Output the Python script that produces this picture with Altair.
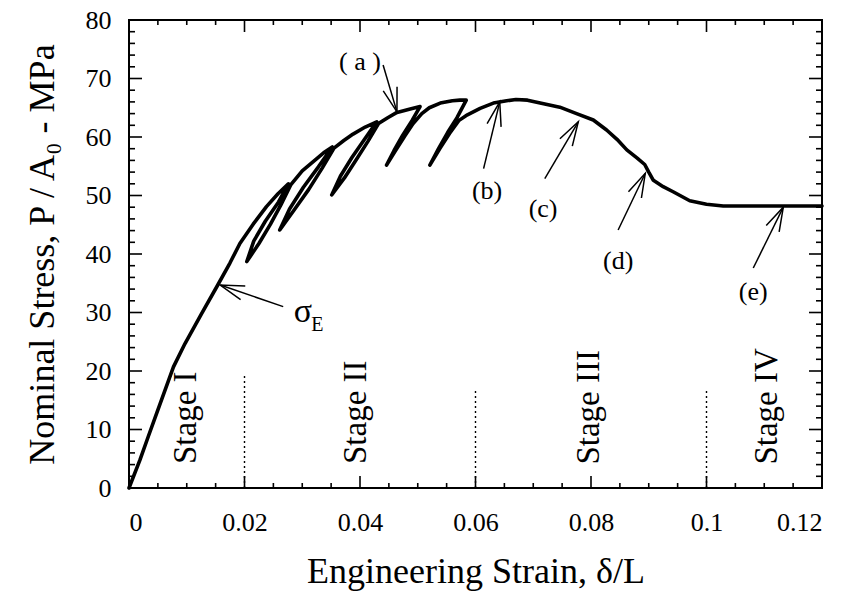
import math
import altair as alt
import pandas as pd

# ---------------- data ----------------
strain = [
    0.0, 0.0019, 0.00334, 0.0048, 0.0077, 0.0097, 0.0125, 0.0152, 0.0175, 0.0192,
    0.0215, 0.0238, 0.0258, 0.0276,
    # loop 1 (unload, reload)
    0.0259, 0.0236, 0.0216, 0.0204, 0.0225, 0.0245, 0.0263, 0.0280,
    0.0300, 0.0319, 0.0337, 0.0352,
    # loop 2
    0.0328, 0.0302, 0.0278, 0.0261, 0.0285, 0.0311, 0.0334, 0.0355,
    0.0372, 0.0388, 0.0409, 0.0429,
    # loop 3
    0.0407, 0.0386, 0.0366, 0.0351, 0.0373, 0.0394, 0.0414, 0.0432,
    0.0448, 0.0464, 0.0487, 0.0504,
    # loop 4
    0.0490, 0.0474, 0.0459, 0.0446, 0.0461, 0.0477, 0.0492, 0.0507,
    0.0520, 0.0539, 0.0560, 0.0573, 0.0584,
    # loop 5
    0.0568, 0.0552, 0.0536, 0.0521, 0.0538, 0.0555, 0.0571, 0.0586,
    0.0608, 0.0631, 0.0654, 0.0670, 0.0690, 0.0712, 0.0746, 0.0775,
    0.0804, 0.0827, 0.0845, 0.0862, 0.0880, 0.0893, 0.0900, 0.0908,
    0.0925, 0.0943, 0.0971, 0.1000, 0.1029, 0.1100, 0.1200,
]
stress = [
    0.0, 4.8, 8.8, 12.8, 20.7, 24.7, 29.7, 34.4, 38.5, 41.8,
    45.1, 48.1, 50.3, 52.0,
    48.9, 45.6, 42.2, 38.7, 41.8, 45.1, 48.4, 51.8,
    54.2, 55.8, 57.3, 58.3,
    54.9, 51.4, 47.7, 44.1, 47.4, 51.0, 54.6, 58.1,
    59.4, 60.5, 61.7, 62.6,
    59.5, 56.5, 53.3, 50.1, 53.0, 56.2, 59.3, 62.3,
    63.3, 64.2, 64.8, 65.2,
    62.8, 60.3, 57.7, 55.2, 57.6, 60.1, 62.3, 64.0,
    65.0, 65.8, 66.2, 66.3, 66.3,
    63.3, 60.8, 58.0, 55.2, 58.0, 60.6, 62.8, 63.8,
    64.9, 65.8, 66.2, 66.4, 66.3, 65.8, 65.1, 64.0,
    62.9, 61.2, 59.6, 57.8, 56.4, 55.3, 54.0, 52.6,
    51.5, 50.6, 49.1, 48.5, 48.2, 48.2, 48.2,
]

# arrows: tip and tail, plus label positions
arrow_tip_x = [0.0464, 0.0642, 0.0778, 0.0894, 0.1133, 0.0158]
arrow_tip_y = [64.3, 66.0, 62.6, 53.8, 48.0, 34.7]
arrow_tail_x = [0.0440, 0.0614, 0.0720, 0.0847, 0.1081, 0.0267]
arrow_tail_y = [72.3, 54.6, 52.9, 44.1, 37.6, 31.0]

letter_text = ["( a )", "(b)", "(c)", "(d)", "(e)"]
letter_x = [0.0400, 0.0620, 0.0717, 0.0847, 0.1081]
letter_y = [72.8, 50.8, 47.7, 38.8, 33.5]

stage_text = ["Stage I", "Stage II", "Stage III", "Stage IV"]
stage_x = [0.0099, 0.0393, 0.0797, 0.1105]
stage_y = [4.1, 4.1, 4.0, 4.0]

stage_lines = [0.02, 0.06, 0.1]
stage_line_top = [19.3, 16.6, 16.6]

x_major = [0.0, 0.02, 0.04, 0.06, 0.08, 0.1, 0.12]
x_minor = [0.005, 0.01, 0.015, 0.025, 0.03, 0.035, 0.045, 0.05, 0.055,
           0.065, 0.07, 0.075, 0.085, 0.09, 0.095, 0.105, 0.11, 0.115]
y_major = [0.0, 10.0, 20.0, 30.0, 40.0, 50.0, 60.0, 70.0, 80.0]
y_minor = [2.0, 4.0, 6.0, 8.0, 12.0, 14.0, 16.0, 18.0, 22.0, 24.0, 26.0, 28.0,
           32.0, 34.0, 36.0, 38.0, 42.0, 44.0, 46.0, 48.0, 52.0, 54.0, 56.0, 58.0,
           62.0, 64.0, 66.0, 68.0, 72.0, 74.0, 76.0, 78.0]

# ---------------- layout ----------------
W, H = 693, 468
X0, X1 = 0.0, 0.12
Y0, Y1 = 0.0, 80.0
FONT = "Liberation Serif"
px_x = W / (X1 - X0)
px_y = H / (Y1 - Y0)

xs = alt.Scale(domain=[X0, X1], nice=False, zero=False)
ys = alt.Scale(domain=[Y0, Y1], nice=False, zero=False)

curve_df = pd.DataFrame({"strain": strain, "stress": stress, "ord": list(range(len(strain)))})

curve = alt.Chart(curve_df).mark_line(
    color="black", strokeWidth=3.6, strokeJoin="round", strokeCap="round"
).encode(
    x=alt.X("strain:Q", scale=xs,
            axis=alt.Axis(values=x_major, format="~g", title="Engineering Strain, δ/L",
                          labelPadding=21, titlePadding=19)),
    y=alt.Y("stress:Q", scale=ys,
            axis=alt.Axis(values=y_major, title="Nominal Stress, P / A₀ - MPa",
                          labelPadding=18, titlePadding=24)),
    order="ord:Q",
)

# inward tick marks: tick marks centred half their length inside the frame
tick_layers = []
for vals, length_px in ((x_major, 12), (x_minor, 5)):
    half = (length_px / 2) / px_y
    n = len(vals)
    df = pd.DataFrame({"strain": vals + vals,
                       "stress": [Y0 + half] * n + [Y1 - half] * n})
    tick_layers.append(
        alt.Chart(df).mark_tick(color="black", orient="vertical", thickness=1.6,
                                size=length_px, opacity=1).encode(
            x=alt.X("strain:Q", scale=xs), y=alt.Y("stress:Q", scale=ys)))
for vals, length_px in ((y_major, 13), (y_minor, 6)):
    half = (length_px / 2) / px_x
    n = len(vals)
    df = pd.DataFrame({"stress": vals + vals,
                       "strain": [X0 + half] * n + [X1 - half] * n})
    tick_layers.append(
        alt.Chart(df).mark_tick(color="black", orient="horizontal", thickness=1.6,
                                size=length_px, opacity=1).encode(
            x=alt.X("strain:Q", scale=xs), y=alt.Y("stress:Q", scale=ys)))

# stage dotted lines
stage_df = pd.DataFrame({"strain": stage_lines, "stress": [0.0] * len(stage_lines),
                         "stress2": stage_line_top})
stage_rules = alt.Chart(stage_df).mark_rule(color="black", strokeWidth=1.4, strokeDash=[2, 3]).encode(
    x=alt.X("strain:Q", scale=xs), y=alt.Y("stress:Q", scale=ys), y2="stress2:Q")

# arrows
angles = []
for tx, ty, sx, sy in zip(arrow_tip_x, arrow_tip_y, arrow_tail_x, arrow_tail_y):
    dx = (tx - sx) * px_x
    dy = -(ty - sy) * px_y
    angles.append(math.degrees(math.atan2(dx, -dy)) % 360)
arrow_df = pd.DataFrame({"strain": arrow_tip_x, "stress": arrow_tip_y,
                         "strain2": arrow_tail_x, "stress2": arrow_tail_y, "ang": angles})
shafts = alt.Chart(arrow_df).mark_rule(color="black", strokeWidth=1.5).encode(
    x=alt.X("strain:Q", scale=xs), y=alt.Y("stress:Q", scale=ys), x2="strain2:Q", y2="stress2:Q")
heads = alt.Chart(arrow_df).mark_point(
    shape="M -0.3 1 L 0 0 L 0.3 1", filled=False, color="black", strokeWidth=1.5, size=2300, opacity=1
).encode(
    x=alt.X("strain:Q", scale=xs), y=alt.Y("stress:Q", scale=ys),
    angle=alt.Angle("ang:Q", scale=None))

# letter labels
letters_df = pd.DataFrame({"strain": letter_x, "stress": letter_y, "label": letter_text})
letters = alt.Chart(letters_df).mark_text(font=FONT, fontSize=26, color="black",
                                          align="center", baseline="middle").encode(
    x=alt.X("strain:Q", scale=xs), y=alt.Y("stress:Q", scale=ys), text="label:N")

# sigma_E
sig_df = pd.DataFrame({"strain": [0.0301], "stress": [30.1], "label": ["σ"]})
sub_df = pd.DataFrame({"strain": [0.0326], "stress": [27.8], "label": ["E"]})
sigma = alt.Chart(sig_df).mark_text(font=FONT, fontSize=34, color="black",
                                    align="center", baseline="middle").encode(
    x=alt.X("strain:Q", scale=xs), y=alt.Y("stress:Q", scale=ys), text="label:N")
sub = alt.Chart(sub_df).mark_text(font=FONT, fontSize=20, color="black",
                                  align="center", baseline="middle").encode(
    x=alt.X("strain:Q", scale=xs), y=alt.Y("stress:Q", scale=ys), text="label:N")

# stage labels (rotated, reading upward from their anchor)
stages_df = pd.DataFrame({"strain": stage_x, "stress": stage_y, "label": stage_text})
stages = alt.Chart(stages_df).mark_text(font=FONT, fontSize=33, color="black", angle=270,
                                        align="left", baseline="middle").encode(
    x=alt.X("strain:Q", scale=xs), y=alt.Y("stress:Q", scale=ys), text="label:N")

chart = alt.layer(
    curve, *tick_layers, stage_rules, shafts, heads, letters, sigma, sub, stages
).properties(
    width=W, height=H,
    autosize=alt.AutoSizeParams(type="none"),
    padding={"left": 129, "top": 20, "right": 28, "bottom": 111},
    background="white",
).configure_view(
    stroke="black", strokeWidth=2
).configure_axis(
    grid=False, domain=False, ticks=False, tickSize=0,
    labelFont=FONT, labelFontSize=26, labelColor="black",
    titleFont=FONT, titleFontSize=36, titleFontWeight="normal", titleColor="black",
)

chart.save("out.html", embed_options={"renderer": "svg", "actions": False})
